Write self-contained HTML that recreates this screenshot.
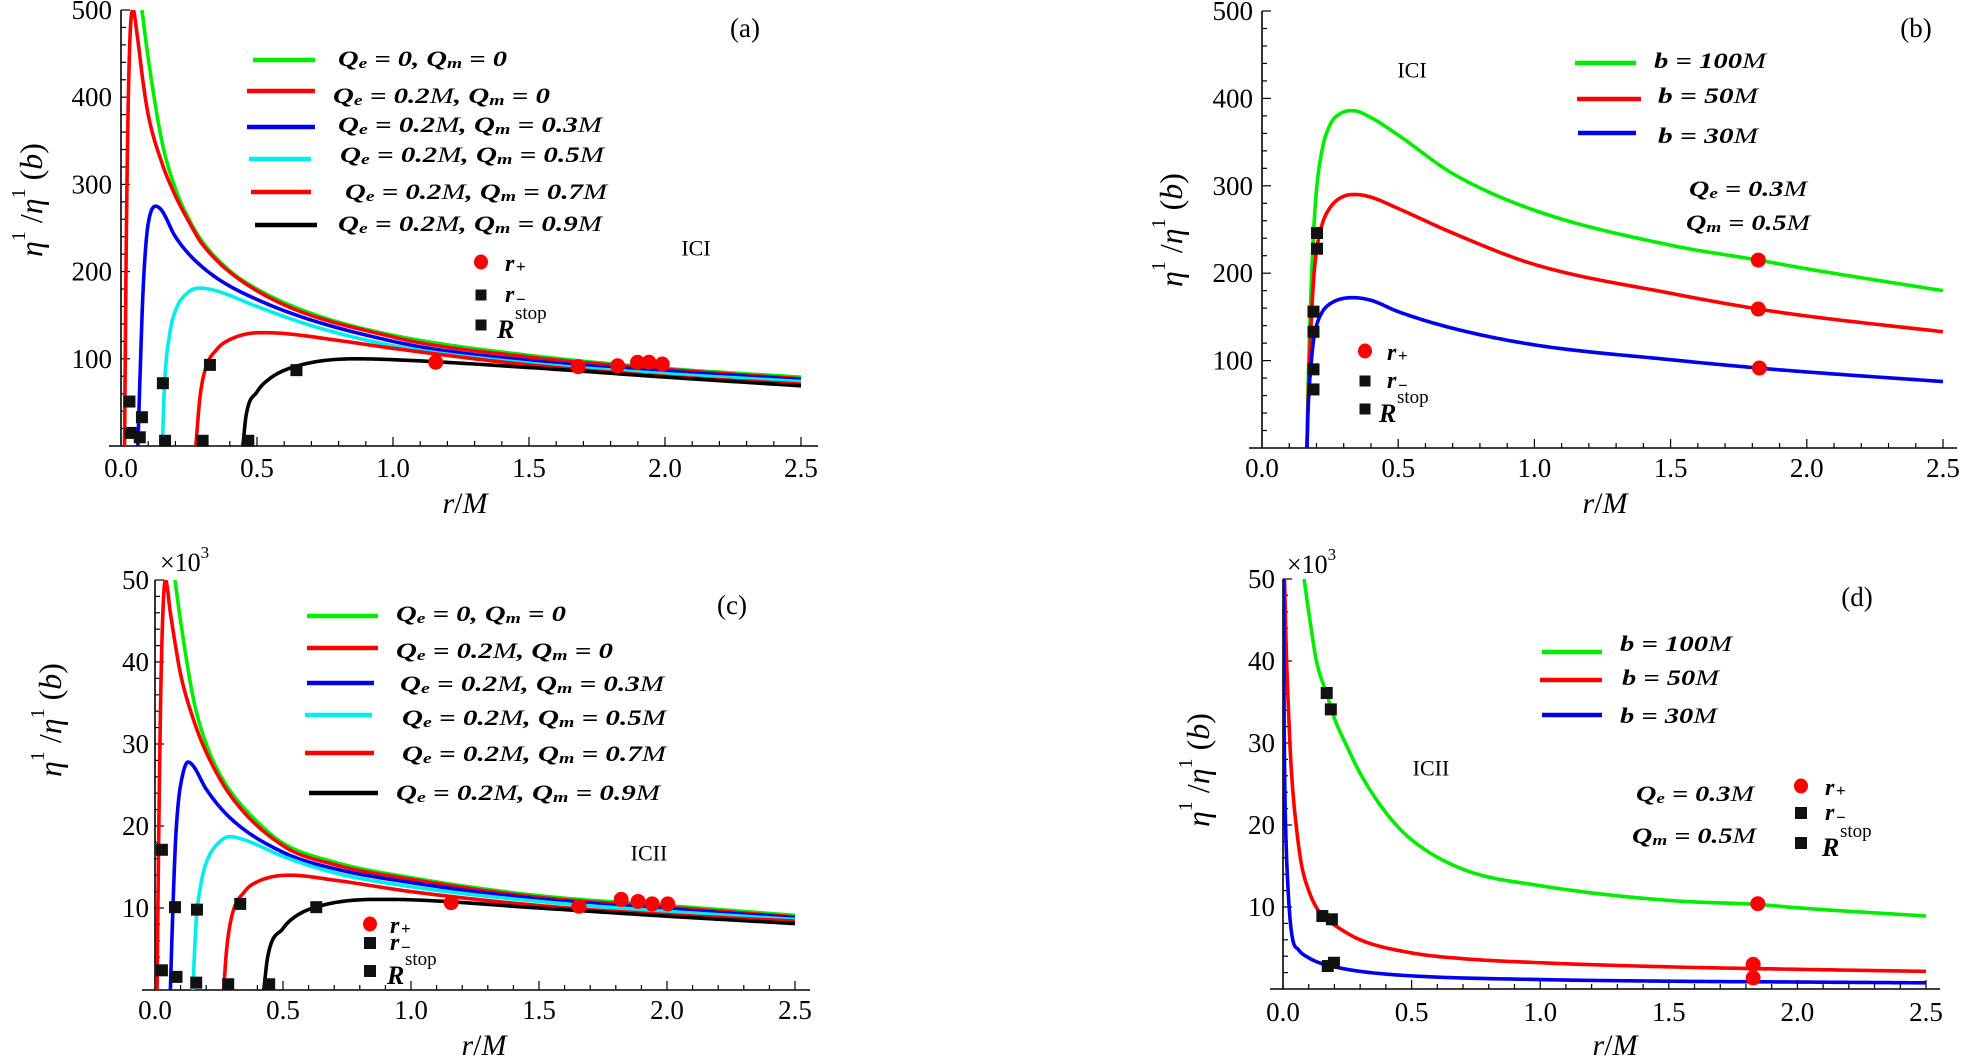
<!DOCTYPE html>
<html><head><meta charset="utf-8"><style>
html,body{margin:0;padding:0;background:#fff;}
svg{display:block;}
text{font-family:"Liberation Serif","DejaVu Serif",serif;}
</style></head><body>
<svg id="fig" xmlns="http://www.w3.org/2000/svg" width="1963" height="1064" viewBox="0 0 1963 1064">
<rect width="1963" height="1064" fill="#fff"/>
</svg>
<script>
// ---------- data ----------
const xTickLabels = ['0.0','0.5','1.0','1.5','2.0','2.5'];
const xTickValues = [0,0.5,1.0,1.5,2.0,2.5];
const yTicksAB = [100,200,300,400,500];
const yTicksCD = [10,20,30,40,50];

// panel (a)
const aGreen = [[0.077,500],[0.1,445],[0.15,350],[0.2,295],[0.25,260],[0.3,234],[0.4,201],[0.5,180],[0.7,152],[1.0,127],[1.5,104],[2.0,89],[2.5,79]];
const aRed0 = [[0.013,0],[0.02,250],[0.03,440],[0.044,500],[0.06,470],[0.08,420],[0.1,380],[0.15,325],[0.2,287],[0.25,257],[0.3,231],[0.5,178],[1.0,125],[1.5,102],[2.0,88],[2.5,77]];
const aBlue = [[0.062,0],[0.07,80],[0.08,170],[0.09,225],[0.1,255],[0.127,275],[0.15,270],[0.2,240],[0.3,205],[0.5,168],[1.0,120],[1.5,98],[2.0,86],[2.5,76]];
const aCyan = [[0.152,0],[0.16,70],[0.18,130],[0.2,155],[0.25,177],[0.295,181],[0.35,178],[0.5,160],[0.7,138],[1.0,115],[1.5,95],[2.0,83],[2.5,74]];
const aRed7 = [[0.275,0],[0.29,55],[0.31,88],[0.35,110],[0.4,122],[0.516,130],[0.6,129],[0.8,121],[1.0,112],[1.5,93],[2.0,80],[2.5,71]];
const aBlack = [[0.448,0],[0.46,35],[0.5,62],[0.55,78],[0.65,92],[0.863,100],[1.0,99],[1.5,90],[2.0,79],[2.5,69]];
const aCircles = [[1.157,96],[1.681,91],[1.826,92],[1.899,96],[1.941,96],[1.99,94]];
const aSquares = [[0.031,51],[0.035,15],[0.077,33],[0.069,10],[0.154,72],[0.162,6],[0.30,6],[0.327,93],[0.468,6],[0.645,87]];

// panel (b)
const bGreen = [[0.165,0],[0.17,80],[0.18,180],[0.19,250],[0.2,295],[0.22,340],[0.25,370],[0.29,383],[0.333,386],[0.4,378],[0.5,358],[0.7,314],[1.0,272],[1.5,232],[1.822,215],[2.0,205],[2.5,180]];
const bRed = [[0.165,0],[0.17,60],[0.18,140],[0.19,195],[0.2,225],[0.22,255],[0.25,275],[0.3,288],[0.343,290],[0.4,287],[0.5,274],[0.7,246],[1.0,210],[1.5,177],[1.822,159],[2.0,151],[2.5,133]];
const bBlue = [[0.165,0],[0.17,50],[0.18,95],[0.19,125],[0.2,140],[0.22,155],[0.25,165],[0.333,172],[0.4,169],[0.5,156],[0.7,137],[1.0,118],[1.5,101],[1.822,91.5],[2.0,87],[2.5,76]];
const bCircles = [[1.822,215],[1.822,159],[1.826,91.5]];
const bSquares = [[0.202,246],[0.202,228],[0.189,156],[0.189,133],[0.189,90],[0.189,67]];

// panel (c)  (values x10^3)
const cGreen = [[0.078,50],[0.1,45],[0.15,35.5],[0.2,30],[0.25,26.5],[0.3,24],[0.4,20.5],[0.5,17.9],[0.7,15.6],[1.0,13.7],[1.5,11.5],[2.0,10.3],[2.5,9.1]];
const cRed0 = [[0.008,0],[0.015,20],[0.025,40],[0.041,50],[0.06,46],[0.08,42],[0.1,38.5],[0.15,33],[0.2,29],[0.3,23.5],[0.5,17.6],[0.7,15.3],[1.0,13.5],[1.5,11.3],[2.0,10.1],[2.5,8.9]];
const cBlue = [[0.06,0],[0.07,10],[0.08,18],[0.09,22.5],[0.1,25],[0.129,27.8],[0.15,27.3],[0.2,24.5],[0.3,20.8],[0.5,16.8],[0.7,14.8],[1.0,13.1],[1.5,11.1],[2.0,9.9],[2.5,8.8]];
const cCyan = [[0.148,0],[0.16,8],[0.18,13],[0.2,15.5],[0.25,18],[0.292,18.7],[0.35,18.3],[0.5,16.3],[0.7,14.3],[1.0,12.6],[1.5,10.8],[2.0,9.6],[2.5,8.6]];
const cRed7 = [[0.268,0],[0.28,5],[0.3,9],[0.35,12],[0.4,13.2],[0.527,14],[0.7,13.4],[1.0,12.0],[1.5,10.3],[2.0,9.2],[2.5,8.4]];
const cBlack = [[0.425,0],[0.44,4],[0.5,7.5],[0.55,9],[0.65,10.3],[0.865,11.05],[1.0,11.0],[1.5,10.0],[2.0,9.0],[2.5,8.1]];
const cCircles = [[1.157,10.65],[1.656,10.2],[1.821,11.05],[1.887,10.8],[1.942,10.5],[2.003,10.5]];
const cSquares = [[0.027,17.1],[0.027,2.4],[0.078,10.1],[0.084,1.6],[0.164,9.8],[0.161,0.9],[0.286,0.7],[0.333,10.5],[0.446,0.7],[0.63,10.1]];

// panel (d)  (values x10^3)
const dGreen = [[0.082,50],[0.1,46],[0.13,40],[0.17,36],[0.2,33],[0.25,29.5],[0.3,26.3],[0.4,21.5],[0.5,18.2],[0.7,14.6],[1.0,12.6],[1.5,10.8],[1.85,10.3],[2.0,9.9],[2.5,8.9]];
const dRed = [[0.006,50],[0.012,42],[0.02,35],[0.03,28],[0.04,23.5],[0.05,20.3],[0.07,15.5],[0.1,12],[0.15,9],[0.2,7.8],[0.3,6.0],[0.5,4.4],[0.7,3.7],[1.0,3.2],[1.5,2.7],[2.0,2.4],[2.5,2.15]];
const dBlue = [[0.002,50],[0.004,35],[0.006,27],[0.01,20],[0.02,12],[0.035,6.5],[0.06,4.8],[0.1,3.8],[0.15,3.1],[0.2,2.7],[0.3,2.15],[0.5,1.6],[1.0,1.15],[1.5,0.95],[2.0,0.85],[2.5,0.75]];
const dCircles = [[1.846,10.4],[1.828,3.0],[1.828,1.35]];
const dSquares = [[0.17,36.1],[0.186,34.1],[0.153,8.9],[0.19,8.5],[0.174,2.8],[0.198,3.2]];

// ---------- drawing ----------
const NS = 'http://www.w3.org/2000/svg';
const svg = document.getElementById('fig');
function mk(tag, parent){ const e = document.createElementNS(NS, tag); parent.appendChild(e); return e; }
function line(parent,x1,y1,x2,y2,w,c){ const l=mk('line',parent); l.setAttribute('x1',x1);l.setAttribute('y1',y1);l.setAttribute('x2',x2);l.setAttribute('y2',y2);l.setAttribute('stroke',c||'#000');l.setAttribute('stroke-width',w||1); return l; }

// monotone cubic (Fritsch-Carlson) resampling of y(r), in data space
function resample(pts){
  const n=pts.length, xs=pts.map(p=>p[0]), ys=pts.map(p=>p[1]);
  const d=[], m=new Array(n);
  for(let i=0;i<n-1;i++) d.push((ys[i+1]-ys[i])/(xs[i+1]-xs[i]));
  m[0]=d[0]; m[n-1]=d[n-2];
  for(let i=1;i<n-1;i++){ m[i]=(d[i-1]*d[i]<=0)?0:(d[i-1]+d[i])/2; }
  for(let i=0;i<n-1;i++){
    if(d[i]===0){m[i]=0;m[i+1]=0;continue;}
    const a=m[i]/d[i], b=m[i+1]/d[i], s=a*a+b*b;
    if(s>9){ const t=3/Math.sqrt(s); m[i]=t*a*d[i]; m[i+1]=t*b*d[i]; }
  }
  const out=[];
  for(let i=0;i<n-1;i++){
    const h=xs[i+1]-xs[i], N=24;
    for(let k=0;k<N;k++){
      const t=k/N, t2=t*t, t3=t2*t;
      const y=(2*t3-3*t2+1)*ys[i]+(t3-2*t2+t)*h*m[i]+(-2*t3+3*t2)*ys[i+1]+(t3-t2)*h*m[i+1];
      out.push([xs[i]+t*h,y]);
    }
  }
  out.push([xs[n-1],ys[n-1]]);
  return out;
}

function drawPanel(p){
  const g = mk('g', svg);
  
  
  const sx = r => p.x0 + r/2.5*(p.x1-p.x0);
  const sy = v => p.yb - v/p.vmax*(p.yb-p.yt);
  const cp = mk('clipPath', g); cp.setAttribute('id','clip-'+p.id);
  const cr = mk('rect', cp); cr.setAttribute('x',p.x0); cr.setAttribute('y',p.yt); cr.setAttribute('width',p.xr-p.x0); cr.setAttribute('height',p.yb-p.yt);
  const xa = line(g,p.xl,p.yb,p.xr,p.yb,1.6);
  
  
  const ya = line(g,p.x0,p.yb,p.x0,p.yt,1.6);
  
  
  for(let k=1;k<=25;k++){
    const x=sx(k/10), major=(k%5===0);
    line(g,x,p.yb,x,p.yb-(major?9:5),1.2);
  }
  xTickValues.forEach((v,i)=>{
    const t = mk('text', g);
    
    
    t.setAttribute('x', sx(v)); t.setAttribute('y', p.xlabY);
    t.setAttribute('text-anchor','middle'); t.setAttribute('dominant-baseline','central');
    t.setAttribute('font-size','27');
    t.textContent = xTickLabels[i];
  });
  const nMinor = Math.round(p.vmax/p.vminor);
  for(let k=1;k<=nMinor;k++){
    const v=k*p.vminor, y=sy(v), major=(Math.abs(v/p.vmajor-Math.round(v/p.vmajor))<1e-6);
    line(g,p.x0,y,p.x0+(major?9:5),y,1.2);
  }
  p.yTicks.forEach(v=>{
    const t = mk('text', g);
    
    
    t.setAttribute('x', p.ylabRight); t.setAttribute('y', sy(v));
    t.setAttribute('text-anchor','end'); t.setAttribute('dominant-baseline','central');
    t.setAttribute('font-size','27');
    t.textContent = String(v);
  });
  const cg = mk('g', g); cg.setAttribute('clip-path','url(#clip-'+p.id+')');
  p.series.forEach(s=>{
    const path = mk('path', cg);
    
    
    const pts = resample(s.data).map(q=>[sx(q[0]),sy(q[1])]);
    path.setAttribute('d', 'M'+pts.map(q=>q[0].toFixed(2)+','+q[1].toFixed(2)).join(' L'));
    path.setAttribute('fill','none'); path.setAttribute('stroke',s.color); path.setAttribute('stroke-width','3.6');
    path.setAttribute('stroke-linejoin','round');
  });
  p.circles.forEach(q=>{
    const e = mk('ellipse', g);
    
    
    e.setAttribute('cx',sx(q[0])); e.setAttribute('cy',sy(q[1])); e.setAttribute('rx',7.5); e.setAttribute('ry',7.5); e.setAttribute('fill','#f00');
  });
  p.squares.forEach(q=>{
    const e = mk('rect', g);
    
    
    e.setAttribute('x',sx(q[0])-6); e.setAttribute('y',sy(q[1])-6); e.setAttribute('width',12); e.setAttribute('height',12); e.setAttribute('fill','#111');
  });
  return g;
}

drawPanel({id:'a',x0:121,x1:801,xl:109,xr:818,yb:446,yt:10,vmax:500,vmajor:100,vminor:20,ylabRight:112,xlabY:468,yTicks:yTicksAB,
  series:[{name:'curve-qe0-qm0',color:'#00ee00',data:aGreen},{name:'curve-qm0',color:'#ff0000',data:aRed0},{name:'curve-qm03',color:'#0000ee',data:aBlue},{name:'curve-qm05',color:'#00eeee',data:aCyan},{name:'curve-qm07',color:'#ff0000',data:aRed7},{name:'curve-qm09',color:'#000',data:aBlack}],
  circles:aCircles,squares:aSquares});
drawPanel({id:'b',x0:1262,x1:1943,xl:1249,xr:1957,yb:448,yt:11,vmax:500,vmajor:100,vminor:20,ylabRight:1253,xlabY:468,yTicks:yTicksAB,
  series:[{name:'curve-b100',color:'#00ee00',data:bGreen},{name:'curve-b50',color:'#ff0000',data:bRed},{name:'curve-b30',color:'#0000ee',data:bBlue}],
  circles:bCircles,squares:bSquares});
drawPanel({id:'c',x0:155,x1:795,xl:142,xr:810,yb:990,yt:580,vmax:50,vmajor:10,vminor:2,ylabRight:149,xlabY:1010,yTicks:yTicksCD,
  series:[{name:'curve-qe0-qm0',color:'#00ee00',data:cGreen},{name:'curve-qm0',color:'#ff0000',data:cRed0},{name:'curve-qm03',color:'#0000ee',data:cBlue},{name:'curve-qm05',color:'#00eeee',data:cCyan},{name:'curve-qm07',color:'#ff0000',data:cRed7},{name:'curve-qm09',color:'#000',data:cBlack}],
  circles:cCircles,squares:cSquares});
drawPanel({id:'d',x0:1283,x1:1926,xl:1270,xr:1940,yb:989,yt:579,vmax:50,vmajor:10,vminor:2,ylabRight:1275,xlabY:1012,yTicks:yTicksCD,
  series:[{name:'curve-b100',color:'#00ee00',data:dGreen},{name:'curve-b50',color:'#ff0000',data:dRed},{name:'curve-b30',color:'#0000ee',data:dBlue}],
  circles:dCircles,squares:dSquares});

// ---------- annotations / legends ----------
function richText(parent, x, y, str, size, len){
  const t = mk('text', parent);
  t.setAttribute('x',x); t.setAttribute('y',y);
  t.setAttribute('dominant-baseline','central');
  t.setAttribute('font-size',size); t.setAttribute('font-style','italic'); t.setAttribute('font-weight','bold');
  let i=0, sub=false;
  while(i<str.length){
    const ch=str[i];
    const ts = mk('tspan', t);
    if(ch==='_'){ ts.textContent=str[i+1]; ts.setAttribute('font-size',size*0.68); ts.setAttribute('dy',size*0.28); sub=true; i+=2; continue; }
    if(ch==='|'){ ts.textContent=str[i+1]; ts.setAttribute('font-weight','normal'); if(sub){ts.setAttribute('dy',-size*0.28);sub=false;} i+=2; continue; }
    let j=i; while(j<str.length && str[j]!=='_' && str[j]!=='|') j++;
    ts.textContent=str.slice(i,j); if(sub){ts.setAttribute('dy',-size*0.28);sub=false;}
    i=j;
  }
  if(len){ t.setAttribute('textLength',len); t.setAttribute('lengthAdjust','spacingAndGlyphs'); }
  return t;
}
function plain(parent,x,y,str,size,anchor){
  const t=mk('text',parent); t.setAttribute('x',x); t.setAttribute('y',y); t.setAttribute('font-size',size);
  t.setAttribute('dominant-baseline','central'); t.setAttribute('text-anchor',anchor||'middle'); t.textContent=str; return t;
}
function legendLine(parent,x1,x2,y,c){ return line(parent,x1,y,x2,y,4.5,c); }

const ann = mk('g', svg);



const legA = mk('g', ann);


[[253,315,60,'#00ee00',338,58,'Q_e = 0,  Q_m = 0',169],
 [247,315,91,'#ff0000',333,95,'Q_e = 0.2|M,  Q_m = 0',217],
 [247,315,127,'#0000ee',338,124,'Q_e = 0.2|M,  Q_m = 0.3|M',264],
 [249,311,159,'#00eeee',340,154,'Q_e = 0.2|M,  Q_m = 0.5|M',264],
 [251,311,192,'#ff0000',345,191,'Q_e = 0.2|M,  Q_m = 0.7|M',262],
 [255,317,225,'#000',338,223,'Q_e = 0.2|M,  Q_m = 0.9|M',264]].forEach(e=>{
  legendLine(legA,e[0],e[1],e[2],e[3]); richText(legA,e[4],e[5],e[6],22,e[7]);
});
const legC = mk('g', ann);


[[307,378,616,'#00ee00',396,613,'Q_e = 0,  Q_m = 0',170],
 [307,378,648,'#ff0000',396,650,'Q_e = 0.2|M,  Q_m = 0',217],
 [307,374,683,'#0000ee',400,683,'Q_e = 0.2|M,  Q_m = 0.3|M',264],
 [305,372,715,'#00eeee',402,717,'Q_e = 0.2|M,  Q_m = 0.5|M',264],
 [305,374,753,'#ff0000',402,753,'Q_e = 0.2|M,  Q_m = 0.7|M',264],
 [309,378,793,'#000',396,792,'Q_e = 0.2|M,  Q_m = 0.9|M',264]].forEach(e=>{
  legendLine(legC,e[0],e[1],e[2],e[3]); richText(legC,e[4],e[5],e[6],22,e[7]);
});
const legB = mk('g', ann);


[[1575,1636,63,'#00ee00',1654,60,'b = 100|M',112],
 [1577,1641,99,'#ff0000',1658,95,'b = 50|M',100],
 [1578,1636,133,'#0000ee',1658,135,'b = 30|M',100]].forEach(e=>{
  legendLine(legB,e[0],e[1],e[2],e[3]); richText(legB,e[4],e[5],e[6],22,e[7]);
});
richText(ann,1689,188,'Q_e = 0.3|M',22,118);
richText(ann,1686,222,'Q_m = 0.5|M',22,124);
const legD = mk('g', ann);


[[1542,1602,652,'#00ee00',1620,643,'b = 100|M',112],
 [1540,1602,680,'#ff0000',1622,677,'b = 50|M',97],
 [1542,1602,715,'#0000ee',1620,715,'b = 30|M',97]].forEach(e=>{
  legendLine(legD,e[0],e[1],e[2],e[3]); richText(legD,e[4],e[5],e[6],22,e[7]);
});
richText(ann,1636,793,'Q_e = 0.3|M',22,118);
richText(ann,1632,835,'Q_m = 0.5|M',22,124);

function markerLegend(cx,cy1,cy2,cy3,tx1,tx3,sq){
  const g=mk('g',ann);
  
  
  const c=mk('ellipse',g); c.setAttribute('cx',cx); c.setAttribute('cy',cy1); c.setAttribute('rx',7); c.setAttribute('ry',7.5); c.setAttribute('fill','#f00');
  [cy2,cy3].forEach(y=>{ const r=mk('rect',g); r.setAttribute('x',cx-sq/2); r.setAttribute('y',y-sq/2); r.setAttribute('width',sq); r.setAttribute('height',sq); r.setAttribute('fill','#111'); });
  richText(g,tx1,cy1+2,'r',24); const p1=mk('text',g); p1.setAttribute('x',tx1+11); p1.setAttribute('y',cy1+10); p1.setAttribute('font-size',17); p1.setAttribute('font-weight','bold'); p1.textContent='+';
  richText(g,tx1,cy2,'r',24); const p2=mk('text',g); p2.setAttribute('x',tx1+11); p2.setAttribute('y',cy2+10); p2.setAttribute('font-size',17); p2.setAttribute('font-weight','bold'); p2.textContent='\u2212';
  richText(g,tx3,cy3+4,'R',26); const s=mk('text',g); s.setAttribute('x',tx3+18); s.setAttribute('y',cy3-6); s.setAttribute('font-size',19); s.textContent='stop';
}
markerLegend(481,262,295,325,505,497,11);
markerLegend(1365,351,381,409,1387,1379,11);
markerLegend(370,924,943,971,390,387,12);
markerLegend(1801,786,813,843,1825,1822,12);

[['(a)',745,28],['(b)',1916,28],['(c)',732,605],['(d)',1857,597]].forEach(e=>{
  const t=plain(ann,e[1],e[2],e[0],27);
  
  
});
[['ICI',696,248],['ICI',1412,70],['ICII',649,853],['ICII',1431,768]].forEach(e=>{
  const t=plain(ann,e[1],e[2],e[0],22);
  
  
});
[[160,563],[1287,565]].forEach(e=>{
  const t=mk('text',ann); t.setAttribute('x',e[0]); t.setAttribute('y',e[1]+8); t.setAttribute('font-size',26);
  
  
  t.textContent='\u00d710'; const s=mk('tspan',t); s.setAttribute('font-size',17); s.setAttribute('dy',-13); s.textContent='3';
});
[[465,503],[1605,503],[484,1045],[1615,1045]].forEach(e=>{
  const t=mk('text',ann); t.setAttribute('x',e[0]); t.setAttribute('y',e[1]); t.setAttribute('font-size',30);
  t.setAttribute('text-anchor','middle'); t.setAttribute('dominant-baseline','central');
  
  
  const a=mk('tspan',t); a.setAttribute('font-style','italic'); a.textContent='r';
  const b=mk('tspan',t); b.textContent='/';
  const c=mk('tspan',t); c.setAttribute('font-style','italic'); c.textContent='M';
});
[[31,200],[1171,230],[50,720],[1198,770]].forEach(e=>{
  const t=mk('text',ann); t.setAttribute('font-size',32);
  t.setAttribute('text-anchor','middle'); t.setAttribute('dominant-baseline','central');
  t.setAttribute('transform','translate('+e[0]+','+e[1]+') rotate(-90)');
  
  
  const p1=mk('tspan',t); p1.setAttribute('font-style','italic'); p1.textContent='\u03b7';
  const p2=mk('tspan',t); p2.setAttribute('font-size',20); p2.setAttribute('dy',-12); p2.textContent='1';
  const p3=mk('tspan',t); p3.setAttribute('dy',12); p3.textContent=' /';
  const p4=mk('tspan',t); p4.setAttribute('font-style','italic'); p4.textContent='\u03b7';
  const p5=mk('tspan',t); p5.setAttribute('font-size',20); p5.setAttribute('dy',-12); p5.textContent='1';
  const p6=mk('tspan',t); p6.setAttribute('dy',12); p6.textContent=' (';
  const p7=mk('tspan',t); p7.setAttribute('font-style','italic'); p7.textContent='b';
  const p8=mk('tspan',t); p8.textContent=')';
});
</script>
</body></html>
